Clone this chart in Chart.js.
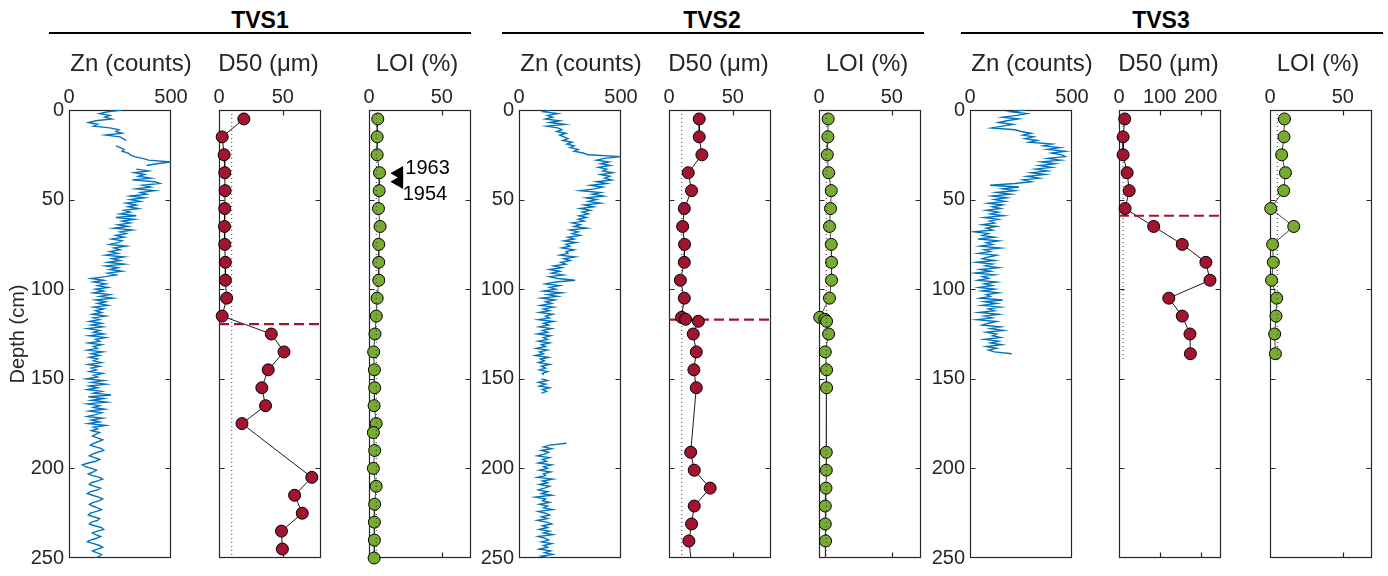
<!DOCTYPE html>
<html>
<head>
<meta charset="utf-8">
<script src="https://cdn.jsdelivr.net/npm/chart.js@4.4.1/dist/chart.umd.min.js"></script>
<style>
  body { margin: 0; width: 1388px; height: 576px; background: #fff; position: relative; overflow: hidden;
         font-family: 'Liberation Sans', Arial, sans-serif; }
  canvas { position: absolute; top: 0; }
  .core { position: absolute; top: 9px; width: 200px; text-align: center; font-weight: bold;
          font-size: 23px; line-height: 23px; color: #000; }
  .rule { position: absolute; top: 32px; height: 2px; width: 422px; background: #000; }
</style>
</head>
<body>
<div class="core" style="left:160px">TVS1</div>
<div class="core" style="left:612px">TVS2</div>
<div class="core" style="left:1061px">TVS3</div>
<div class="rule" style="left:49px"></div>
<div class="rule" style="left:502px"></div>
<div class="rule" style="left:961px"></div>
<script>
// ---- data ----
const depthTicks = [0, 50, 100, 150, 200, 250];
const znTicks = [0, 500];
const d50Ticks = [0, 50];
const d50TicksWide = [0, 100, 200];
const loiTicks = [0, 50];

// Zn XRF profiles, one value per cm starting at 0 cm (null = no data)
const tvs1Zn = [
  260, 190, 150, 200, 175, 210, 130, 95, 140, 120,
  200, 245, 230, 260, 180, 250, 265, 280, null, null,
  230, 250, 270, 260, 290, 300, 320, 360, 390, 500,
  430, 380, null, 330, 390, 320, 370, 340, 400, 310,
  420, 445, 360, 400, 330, 420, 350, 380, 300, 370,
  300, 350, 280, 330, 290, 340, 270, 300, 250, 330,
  230, 320, 260, 300, 240, 290, 220, 310, 250, 280,
  230, 270, 210, 260, 240, 200, 280, 220, 250, 200,
  240, 180, 270, 210, 250, 190, 270, 180, 240, 200,
  260, 190, 230, 180, 110, 170, 120, 180, 140, 190,
  130, 170, 120, 200, 150, 215, 130, 180, 140, 190,
  120, 170, 130, 160, 115, 180, 120, 150, 100, 160,
  110, 165, 90, 150, 120, 170, 100, 180, 130, 150,
  95, 160, 120, 140, 90, 165, 110, 150, 100, 140,
  120, 160, 95, 150, 110, 135, 100, 165, 120, 140,
  85, 170, 110, 180, 100, 140, 90, 160, 120, 206,
  95, 170, 110, 185, 90, 150, 120, 175, 100, 160,
  130, 90, 165, 110, 150, 95, 180, 120, 140, 110,
  150, 130, 115, 140, 165, 145, 120, 105, 130, 160,
  170, 140, 115, 100, 125, 150, 130, 95, 66, 80,
  110, 135, 120, 95, 115, 150, 165, 140, 110, 100,
  125, 155, 140, 105, 90, 115, 145, 165, 150, 120,
  100, 115, 140, 160, 135, 105, 95, 120, 150, 140,
  110, 100, 125, 160, 170, 140, 115, 130, 155, 135,
  105, 90, 120, 150, 165, 140, 115, 135, 160, 150,
  130
];
// TVS2 has a hole in the scan between 159 and 185 cm
const tvs2ZnTop = [
  150, 120, 190, 140, 165, 130, 200, 150, 225, 135,
  190, 210, 185, 230, 200, 220, 240, 215, 260, 235,
  270, 250, 290, 270, 315, 340, 497, 420, 380, 440,
  400, 447, 390, 430, 410, 460, 400, 445, 420, 455,
  380, 430, 350, 410, 370, 300, 400, 360, 414, 330,
  380, 340, 400, 320, 365, 300, 350, 310, 340, 295,
  330, 290, 320, 260, 300, 270, 332, 250, 290, 260,
  299, 240, 270, 220, 280, 230, 250, 210, 270, 230,
  240, 200, 275, 220, 250, 205, 230, 170, 210, 150,
  200, 160, 217, 150, 190, 275, 180, 130, 200, 150,
  180, 120, 210, 140, 190, 110, 175, 130, 160, 105,
  170, 120, 150, 100, 165, 130, 150, 95, 170, 120,
  145, 100, 160, 115, 140, 90, 155, 120, 140, 95,
  150, 110, 130, 85, 140, 100, 120, 80, 145, 105,
  125, 95, 150, 110, 130, 100, 140, 115, 120, null,
  110, 140, 95, 130, 100, 150, 115, 135, 110
];
const tvs2ZnBottomStart = 186;
const tvs2ZnBottom = [
  233, 150, 120, 160,
  110, 145, 125, 90, 150, 115, 135, 95, 160, 120,
  140, 100, 155, 120, 130, 90, 165, 115, 140, 100,
  150, 125, 95, 140, 110, 160, 80, 130, 115, 150,
  100, 140, 120, 165, 95, 130, 150, 110, 140, 90,
  135, 160, 115, 140, 100, 150, 120, 165, 95, 130,
  145, 110, 160, 120, 140, 100, 155, 125, 165, 110,
  150
];
const tvs3Zn = [
  270, 200, 279, 230, 160, 238, 180, 140, 210, 160,
  107, 221, 250, 300, 260, 312, 270, 330, 290, 402,
  360, 440, 380, 467, 400, 450, 467, 380, 443, 350,
  418, 340, 400, 320, 380, 300, 369, 280, 340, 260,
  300, 220, 98, 240, 160, 221, 130, 200, 110, 180,
  120, 172, 90, 160, 110, 150, 80, 140, 100, 165,
  70, 139, 95, 120, 60, 130, 80, 110, 20, 90,
  60, 120, 40, 140, 80, 110, 50, 148, 70, 100,
  40, 130, 90, 60, 120, 30, 110, 75, 140, 50,
  100, 25, 120, 60, 90, 40, 130, 70, 110, 45,
  120, 60, 140, 80, 100, 50, 160, 70, 130, 60,
  150, 90, 120, 45, 140, 70, 110, 35, 130, 90,
  60, 150, 100, 164, 80, 130, 110, 150, 70, 140,
  100, 155, 80, 130, 90, 120, 205
];

// discrete samples (depth in cm)
const tvs1D50Depth = [5, 15, 25, 35, 45, 55, 65, 75, 85, 95, 105, 115, 125, 135, 145, 155, 165, 175, 205, 215, 225, 235, 245];
const tvs1D50 = [19.5, 2.5, 4, 4.5, 4.8, 4.5, 4.3, 4.5, 5, 5, 6, 2.5, 41, 51, 38.6, 33.6, 36.5, 18, 72.8, 59.3, 65.3, 49, 49.7];
const tvs1LoiDepth = [5, 15, 25, 35, 45, 55, 65, 75, 85, 95, 105, 115, 125, 135, 145, 155, 165, 175, 180, 190, 200, 210, 220, 230, 240, 250];
const tvs1Loi = [6.0, 5.6, 5.6, 7.2, 7.0, 6.5, 7.6, 6.7, 6.7, 6.7, 5.6, 5.0, 4.1, 3.2, 3.7, 3.9, 3.5, 4.9, 3.0, 3.9, 3.0, 4.9, 3.9, 3.7, 3.7, 3.5];

const tvs2Depth = [5, 15, 25, 35, 45, 55, 65, 75, 85, 95, 105, 115.7, 116.8, 117.9, 125, 135, 145, 155, 191, 201, 211, 221, 231, 240.5, 255];
const tvs2D50 = [23.7, 23.7, 25.8, 15.1, 17.7, 12, 10.7, 12.2, 12, 8.9, 12, 9.9, 13, 23, 19, 21.4, 19.5, 21.4, 17, 19.8, 32.3, 19.8, 17.7, 15.6, 18];
const tvs2Loi = [6.3, 6.1, 5.7, 6.6, 8.4, 7.9, 7.2, 8.4, 8.6, 8.6, 7.2, 0.5, 4, 5.2, 6.6, 4.3, 5.2, 5.2, 5, 5, 4.8, 4.3, 4.3, 4.5, 4.5];

const tvs3Depth = [5, 15, 25, 35, 45, 55, 65, 75, 85, 95, 105, 115, 125, 136];
const tvs3D50 = [14, 10, 10, 20, 25, 15, 85, 155, 213, 223, 122, 155, 174, 175];
const tvs3Loi = [9.9, 9.6, 8, 10.6, 9.4, 0.5, 16.3, 1.8, 2.3, 1.1, 4.6, 4.1, 3.2, 3.7];

// facies boundary depth per core
const boundaryDepth = [119.5, 117, 59];
// reference levels and core lengths for the dotted guides
const d50Ref = 10;
const loiRef = 5;
const coreBottom = [250, 250, 140];

// dated horizons marked in the TVS1 LOI panel
const dateLabels = ['1963', '1954'];
const dateDepth = [35.3, 40];
const dateLoi = [20.5, 20.5];

// ---- drawing ----
const FONT = "'Liberation Sans', Arial, sans-serif";
const INK = '#262626';
const BLUE = '#0072BD', RED = '#A2142F', GREEN = '#77AC30';
const AXW = 66, PAD_R = 34, PLOT_W = 102;

const pts = (xs, ys) => xs.map((v, i) => ({ x: v, y: ys[i] }));
const cmProfile = (vals, start = 0) => vals.map((v, i) => ({ x: v, y: start + i }));

// axis box with MATLAB-like inward ticks on all four sides
const boxPlugin = {
  id: 'box',
  beforeDatasetsDraw(chart) {
    const { ctx, chartArea: a, scales: { x, y } } = chart;
    const L = Math.round(a.left) + 0.5, R = Math.round(a.right) - 0.5;
    const T = Math.round(a.top) + 0.5, B = Math.round(a.bottom) - 0.5;
    ctx.save();
    ctx.strokeStyle = INK;
    ctx.lineWidth = 1.2;
    ctx.strokeRect(L, T, R - L, B - T);
    ctx.beginPath();
    x.ticks.forEach(t => {
      const p = Math.round(x.getPixelForValue(t.value)) + 0.5;
      if (p <= L + 1 || p >= R - 1) return;
      ctx.moveTo(p, T); ctx.lineTo(p, T + 5);
      ctx.moveTo(p, B); ctx.lineTo(p, B - 5);
    });
    y.ticks.forEach(t => {
      const p = Math.round(y.getPixelForValue(t.value)) + 0.5;
      if (p <= T + 1 || p >= B - 1) return;
      ctx.moveTo(L, p); ctx.lineTo(L + 5, p);
      ctx.moveTo(R, p); ctx.lineTo(R - 5, p);
    });
    ctx.stroke();
    ctx.restore();
  }
};

// variable name above each panel
const headPlugin = {
  id: 'head',
  afterDraw(chart, args, opts) {
    const { ctx, chartArea: a } = chart;
    ctx.save();
    ctx.font = `24px ${FONT}`;
    ctx.fillStyle = INK;
    ctx.textAlign = 'center';
    ctx.textBaseline = 'middle';
    ctx.fillText(opts.text, (a.left + a.right) / 2 + opts.dx, a.top - 45.5);
    ctx.restore();
  }
};

// year labels next to the triangle markers
const yearPlugin = {
  id: 'years',
  afterDatasetsDraw(chart, args, opts) {
    if (!opts.labels) return;
    const { ctx } = chart;
    const meta = chart.getDatasetMeta(opts.datasetIndex);
    ctx.save();
    ctx.font = `20px ${FONT}`;
    ctx.fillStyle = '#000';
    ctx.textAlign = 'left';
    ctx.textBaseline = 'middle';
    meta.data.forEach((el, i) => {
      ctx.fillText(opts.labels[i], el.x + opts.offsets[i][0], el.y + opts.offsets[i][1]);
    });
    ctx.restore();
  }
};

function guide(data, color, width, dash) {
  return { data, showLine: true, borderColor: color, borderWidth: width, borderDash: dash, pointRadius: 0, tension: 0 };
}
function markers(data, fill) {
  return { data: data.filter(p => p.y <= 250), showLine: false, pointRadius: 6, pointBackgroundColor: fill,
           pointBorderColor: '#000', pointBorderWidth: 1, clip: false };
}
function profileLine(data, color, width) {
  return { data, showLine: true, borderColor: color, borderWidth: width, pointRadius: 0, spanGaps: false, tension: 0 };
}

function addPanel(left, p) {
  const c = document.createElement('canvas');
  c.width = AXW + PLOT_W + PAD_R;
  c.height = 576;
  c.style.left = (left - AXW) + 'px';
  document.body.appendChild(c);
  const tickFont = { family: FONT, size: 20, lineHeight: 1.2 };
  new Chart(c, {
    type: 'scatter',
    data: { datasets: p.datasets },
    options: {
      responsive: false,
      animation: false,
      devicePixelRatio: 1,
      events: [],
      layout: { padding: { left: 0, right: PAD_R, top: 40, bottom: 18 } },
      plugins: {
        legend: { display: false },
        tooltip: { enabled: false },
        head: { text: p.title, dx: p.dx },
        years: p.years || {}
      },
      scales: {
        x: {
          type: 'linear', position: 'top', min: p.min, max: p.max,
          afterBuildTicks: s => { s.ticks = p.ticks.map(value => ({ value })); },
          afterFit: s => { s.height = 70; },
          grid: { display: false, drawTicks: false },
          border: { display: false },
          ticks: { font: tickFont, color: INK, padding: 1, autoSkip: false, minRotation: 0, maxRotation: 0 }
        },
        y: {
          type: 'linear', reverse: true, min: 0, max: 250,
          afterBuildTicks: s => { s.ticks = depthTicks.map(value => ({ value })); },
          afterFit: s => { s.width = AXW; },
          grid: { display: false, drawTicks: false },
          border: { display: false },
          ticks: { display: !!p.depthLabels, font: tickFont, color: INK, padding: 5 },
          title: { display: !!p.depthTitle, text: 'Depth (cm)', color: INK,
                   font: { family: FONT, size: 20, lineHeight: 1.2 }, padding: { top: 3, bottom: 0 } }
        }
      }
    },
    plugins: [boxPlugin, headPlugin, yearPlugin]
  });
}

const cores = [
  { zn: cmProfile(tvs1Zn), d50: pts(tvs1D50, tvs1D50Depth), loi: pts(tvs1Loi, tvs1LoiDepth), d50Max: 80, d50Ticks },
  { zn: cmProfile(tvs2ZnTop).concat([{ x: null, y: 170 }], cmProfile(tvs2ZnBottom, tvs2ZnBottomStart)),
    d50: pts(tvs2D50, tvs2Depth), loi: pts(tvs2Loi, tvs2Depth), d50Max: 80, d50Ticks },
  { zn: cmProfile(tvs3Zn), d50: pts(tvs3D50, tvs3Depth), loi: pts(tvs3Loi, tvs3Depth), d50Max: 250, d50Ticks: d50TicksWide }
];
const panelLefts = [[69, 219, 369], [519, 669, 819], [970, 1119, 1270]];

cores.forEach((core, k) => {
  const [zx, dx, lx] = panelLefts[k];
  addPanel(zx, {
    title: 'Zn (counts)', dx: 11, min: 0, max: 500, ticks: znTicks,
    depthLabels: true, depthTitle: k === 0,
    datasets: [profileLine(core.zn, BLUE, 1.4)]
  });
  addPanel(dx, {
    title: 'D50 (μm)', dx: -1.5, min: 0, max: core.d50Max, ticks: core.d50Ticks,
    datasets: [
      guide([{ x: d50Ref, y: 0 }, { x: d50Ref, y: coreBottom[k] }], '#333', 1, [1, 3]),
      markers(core.d50, RED),
      guide([{ x: 0, y: boundaryDepth[k] }, { x: core.d50Max, y: boundaryDepth[k] }], RED, 2.2, [10, 5]),
      profileLine(core.d50, '#000', 0.9)
    ]
  });
  const loiSets = [
    guide([{ x: loiRef, y: 0 }, { x: loiRef, y: coreBottom[k] }], '#333', 1, [1, 3]),
    markers(core.loi, GREEN),
    profileLine(core.loi, '#333', 0.9)
  ];
  let years = null;
  if (k === 0) {
    loiSets.push({ data: pts(dateLoi, dateDepth), showLine: false, pointStyle: 'triangle', rotation: -90,
                   pointRadius: 8.5, pointBackgroundColor: '#000', pointBorderColor: '#000', pointBorderWidth: 0, clip: false });
    years = { datasetIndex: loiSets.length - 1, labels: dateLabels, offsets: [[6.5, -4.8], [3.8, 12.6]] };
  }
  addPanel(lx, {
    title: 'LOI (%)', dx: -3, min: 0, max: 70, ticks: loiTicks,
    datasets: loiSets, years
  });
});
</script>
</body>
</html>
